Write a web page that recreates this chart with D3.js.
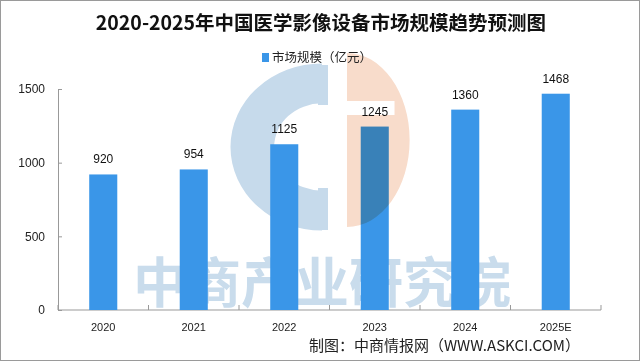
<!DOCTYPE html>
<html lang="zh">
<head>
    <meta charset="UTF-8">
    <title>2020-2025年中国医学影像设备市场规模趋势预测图</title>
    <style type="text/css">
        body { margin: 0; background: #fff; }
        text { font-family: "Liberation Sans", "Noto Sans CJK SC", sans-serif; }
        .cjk { font-family: "Noto Sans CJK SC", sans-serif; }
        .axis path, .axis line { stroke: #999; }
    </style>
</head>
<body>
<svg width="640" height="363"></svg>

<script src="https://d3js.org/d3.v7.min.js"></script>
<script>
    // data
    var years = ["2020", "2021", "2022", "2023", "2024", "2025E"];
    var marketSize = [920, 954, 1125, 1245, 1360, 1468];
    var yTicks = [0, 500, 1000, 1500];

    var svg = d3.select("svg"),
        margin = {top: 89, right: 39, bottom: 53, left: 58},
        width = +svg.attr("width") - margin.left - margin.right,
        height = +svg.attr("height") - margin.top - margin.bottom;

    svg.append("rect")
        .attr("x", 0.5).attr("y", 0.5)
        .attr("width", 639).attr("height", 360)
        .attr("fill", "#fff")
        .attr("stroke", "#9a9a9a");

    // background watermark: logo + company name
    var wm = svg.append("g");
    var ring = d3.arc().innerRadius(46).outerRadius(88)
        .startAngle(Math.PI).endAngle(2 * Math.PI);
    wm.append("path")
        .attr("d", ring())
        .attr("transform", "translate(322,147) scale(1.04,0.95)")
        .attr("fill", "#c6daeb");
    wm.append("rect")
        .attr("x", 318).attr("y", 65).attr("width", 10).attr("height", 40)
        .attr("fill", "#c6daeb");
    wm.append("rect")
        .attr("x", 318).attr("y", 188).attr("width", 10).attr("height", 42)
        .attr("fill", "#c6daeb");
    wm.append("text")
        .attr("class", "cjk")
        .attr("x", 322).attr("y", 303)
        .attr("text-anchor", "middle")
        .attr("font-size", 54)
        .attr("font-weight", 700)
        .attr("fill", "#c9dcec")
        .text("中商产业研究院");

    var g = svg.append("g").attr("transform", "translate(" + margin.left + "," + margin.top + ")");

    var x = d3.scaleBand()
        .domain(years)
        .range([0, width])
        .paddingInner(0.69)
        .paddingOuter(0.345);

    var y = d3.scaleLinear()
        .domain([0, 1500])
        .range([height, 0]);

    g.append("g")
        .attr("class", "axis")
        .call(d3.axisLeft(y).tickValues(yTicks).tickFormat(d3.format("d"))
            .tickSizeInner(-4).tickSizeOuter(0).tickPadding(13))
        .call(function (s) {
            s.selectAll("text").attr("font-size", 12).attr("fill", "#222");
        });

    var xAxis = g.append("g")
        .attr("class", "axis")
        .attr("transform", "translate(0," + height + ")");
    xAxis.append("line")
        .attr("x1", 0).attr("x2", width)
        .attr("stroke", "#999");
    xAxis.selectAll(".sep")
        .data(d3.range(years.length + 1))
        .enter().append("line")
        .attr("x1", function (i) { return i * x.step(); })
        .attr("x2", function (i) { return i * x.step(); })
        .attr("y1", 0).attr("y2", -5)
        .attr("stroke", "#999");
    xAxis.selectAll(".lbl")
        .data(years)
        .enter().append("text")
        .attr("x", function (d) { return x(d) + x.bandwidth() / 2; })
        .attr("y", 21)
        .attr("text-anchor", "middle")
        .attr("font-size", 11)
        .attr("fill", "#222")
        .text(function (d) { return d; });

    g.selectAll(".bar")
        .data(marketSize)
        .enter().append("rect")
        .attr("x", function (d, i) { return x(years[i]); })
        .attr("y", function (d) { return y(d); })
        .attr("width", x.bandwidth())
        .attr("height", function (d) { return height - y(d); })
        .attr("fill", "#3a96e8");

    g.selectAll(".val")
        .data(marketSize)
        .enter().append("text")
        .attr("x", function (d, i) { return x(years[i]) + x.bandwidth() / 2; })
        .attr("y", function (d) { return y(d) - 11; })
        .attr("text-anchor", "middle")
        .attr("font-size", 12)
        .attr("fill", "#111")
        .text(function (d) { return d; });

    // salmon half of the logo sits over the bars, with a white slot cut out
    var half = d3.arc().innerRadius(0).outerRadius(87)
        .startAngle(0).endAngle(Math.PI);
    var slot = d3.path();
    slot.rect(0, -39, 66, 14);
    svg.append("path")
        .attr("d", half() + slot.toString())
        .attr("fill-rule", "evenodd")
        .attr("transform", "translate(347,140) scale(0.72,1)")
        .attr("fill", "#f8dccb")
        .style("mix-blend-mode", "multiply");

    svg.append("text")
        .attr("class", "cjk")
        .attr("x", 321).attr("y", 30)
        .attr("text-anchor", "middle")
        .attr("font-size", 19.5)
        .attr("font-weight", 700)
        .attr("fill", "#111")
        .text("2020-2025年中国医学影像设备市场规模趋势预测图");

    svg.append("rect")
        .attr("x", 262).attr("y", 53)
        .attr("width", 7).attr("height", 9)
        .attr("fill", "#3a96e8");
    svg.append("text")
        .attr("class", "cjk")
        .attr("x", 272).attr("y", 62)
        .attr("font-size", 12.5)
        .attr("fill", "#222")
        .text("市场规模（亿元）");

    svg.append("text")
        .attr("class", "cjk")
        .attr("x", 580).attr("y", 351)
        .attr("text-anchor", "end")
        .attr("font-size", 15)
        .attr("fill", "#222")
        .text("制图：中商情报网（WWW.ASKCI.COM）");
</script>
</body>
</html>
